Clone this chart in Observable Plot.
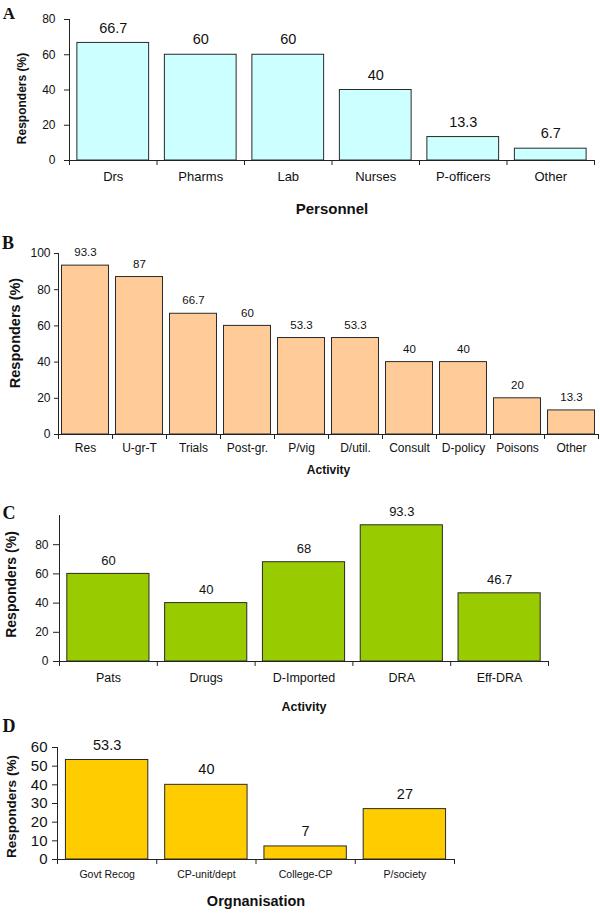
<!DOCTYPE html>
<html>
<head>
<meta charset="utf-8">
<script src="https://cdn.jsdelivr.net/npm/d3@7"></script>
<script src="https://cdn.jsdelivr.net/npm/@observablehq/plot@0.6"></script>
<style>
  html, body { margin: 0; padding: 0; background: #fff; }
  #root { position: relative; width: 600px; height: 913px; overflow: hidden; font-family: "Liberation Sans", Arial, sans-serif; }
  .panel { position: absolute; left: 0; width: 600px; }
  .letter { position: absolute; font-family: "Liberation Serif", "Times New Roman", serif; font-weight: bold; color: #111; line-height: 1; transform: translate(-50%, -50%); }
</style>
</head>
<body>
<div id="root"></div>
<script>
// ---- Data ----
const personnel = ["Drs", "Pharms", "Lab", "Nurses", "P-officers", "Other"];
const personnelPct = [66.7, 60, 60, 40, 13.3, 6.7];

const activityB = ["Res", "U-gr-T", "Trials", "Post-gr.", "P/vig", "D/util.", "Consult", "D-policy", "Poisons", "Other"];
const activityBPct = [93.3, 87, 66.7, 60, 53.3, 53.3, 40, 40, 20, 13.3];

const activityC = ["Pats", "Drugs", "D-Imported", "DRA", "Eff-DRA"];
const activityCPct = [60, 40, 68, 93.3, 46.7];

const organisation = ["Govt Recog", "CP-unit/dept", "College-CP", "P/society"];
const organisationPct = [53.3, 40, 7, 27];

const ticksA = [0, 20, 40, 60, 80];
const ticksB = [0, 20, 40, 60, 80, 100];
const ticksC = [0, 20, 40, 60, 80];
const ticksD = [0, 10, 20, 30, 40, 50, 60];

const yLabel = "Responders (%)";

// ---- Panels ----
const root = document.getElementById("root");

function panel(cfg) {
  const n = cfg.cats.length;
  const data = cfg.cats.map((c, i) => ({cat: c, value: cfg.vals[i], i}));
  const font = '"Liberation Sans", Arial, sans-serif';
  const chart = Plot.plot({
    width: 600,
    height: cfg.height,
    marginTop: cfg.mt,
    marginBottom: cfg.mb,
    marginLeft: cfg.ml,
    marginRight: cfg.mr,
    style: {fontFamily: font, background: "transparent", color: "#111", overflow: "visible"},
    x: {domain: [0, n]},
    y: {domain: cfg.yDomain},
    marks: [
      Plot.rect(data, {
        x1: d => d.i + cfg.pad,
        x2: d => d.i + 1 - cfg.pad,
        y1: () => 0,
        y2: d => d.value,
        fill: cfg.fill,
        stroke: "#2a2a2a",
        strokeWidth: 1
      }),
      Plot.text(data, {
        x: d => d.i + 0.5,
        y: d => d.value,
        text: d => String(d.value),
        dy: cfg.valDy,
        fontSize: cfg.valFont,
        fill: "#111"
      }),
      Plot.ruleX([0], {stroke: "#222", strokeWidth: 1}),
      Plot.ruleY([0], {stroke: "#222", strokeWidth: 1}),
      Plot.axisY(cfg.yTicks, {
        tickSize: cfg.tickSizeY,
        tickPadding: cfg.tickPadY,
        fontSize: cfg.tickFont,
        stroke: "#222",
        fill: "#111",
        label: null
      }),
      Plot.axisX(d3.range(n + 1), {
        tickSize: 5,
        tickFormat: () => "",
        stroke: "#222",
        label: null
      }),
      Plot.text(data, {
        x: d => d.i + 0.5,
        frameAnchor: "bottom",
        dy: cfg.catDy,
        text: d => d.cat,
        fontSize: cfg.catFont,
        fill: "#111"
      }),
      Plot.text([cfg.xLabel], {
        frameAnchor: "bottom",
        dy: cfg.xLabDy,
        text: d => d,
        fontSize: cfg.xLabFont,
        fontWeight: "bold",
        fill: "#111"
      }),
      Plot.text([yLabel], {
        frameAnchor: "left",
        textAnchor: "middle",
        rotate: -90,
        dx: cfg.yLabDx,
        dy: cfg.yLabDy,
        text: d => d,
        fontSize: cfg.yLabFont,
        fontWeight: "bold",
        fill: "#111"
      })
    ]
  });
  const div = document.createElement("div");
  div.className = "panel";
  div.style.top = cfg.top + "px";
  div.style.height = cfg.height + "px";
  div.appendChild(chart);
  root.appendChild(div);

  const letter = document.createElement("div");
  letter.className = "letter";
  letter.textContent = cfg.letter;
  letter.style.left = cfg.letterX + "px";
  letter.style.top = cfg.letterY + "px";
  letter.style.fontSize = cfg.letterFont + "px";
  root.appendChild(letter);
}

panel({
  letter: "A", letterX: 9, letterY: 13, letterFont: 17,
  cats: personnel, vals: personnelPct, fill: "#ccffff",
  top: 0, height: 228, mt: 19, mb: 68, ml: 69, mr: 6,
  yDomain: [0, 80], yTicks: ticksA, pad: 0.09,
  tickSizeY: 5, tickPadY: 9, tickFont: 12,
  valFont: 14.5, valDy: -15,
  catFont: 13, catDy: 20,
  xLabel: "Personnel", xLabFont: 15, xLabDy: 53,
  yLabFont: 12, yLabDx: -47, yLabDy: 8.5
});

panel({
  letter: "B", letterX: 8, letterY: 243, letterFont: 18,
  cats: activityB, vals: activityBPct, fill: "#ffcc99",
  top: 228, height: 252, mt: 25, mb: 46, ml: 58, mr: 2,
  yDomain: [0, 100], yTicks: ticksB, pad: 0.065,
  tickSizeY: 4, tickPadY: 4, tickFont: 12,
  valFont: 11.5, valDy: -13,
  catFont: 12, catDy: 17,
  xLabel: "Activity", xLabFont: 12, xLabDy: 39,
  yLabFont: 14.5, yLabDx: -43, yLabDy: -11
});

panel({
  letter: "C", letterX: 9, letterY: 513, letterFont: 18,
  cats: activityC, vals: activityCPct, fill: "#99cc00",
  top: 480, height: 236, mt: 35, mb: 55, ml: 59, mr: 52,
  yDomain: [0, 100], yTicks: ticksC, pad: 0.08,
  tickSizeY: 6, tickPadY: 5, tickFont: 12,
  valFont: 13, valDy: -13,
  catFont: 12.5, catDy: 20,
  xLabel: "Activity", xLabFont: 12.5, xLabDy: 49,
  yLabFont: 14, yLabDx: -48, yLabDy: -4
});

panel({
  letter: "D", letterX: 9, letterY: 726, letterFont: 18,
  cats: organisation, vals: organisationPct, fill: "#ffcc00",
  top: 716, height: 197, mt: 31, mb: 54, ml: 57, mr: 146,
  yDomain: [0, 60], yTicks: ticksD, pad: 0.085,
  tickSizeY: 5, tickPadY: 5, tickFont: 15,
  valFont: 14.5, valDy: -15,
  catFont: 10.5, catDy: 18,
  xLabel: "Orgnanisation", xLabFont: 14.5, xLabDy: 46,
  yLabFont: 13.5, yLabDx: -46, yLabDy: 3
});
</script>
</body>
</html>
